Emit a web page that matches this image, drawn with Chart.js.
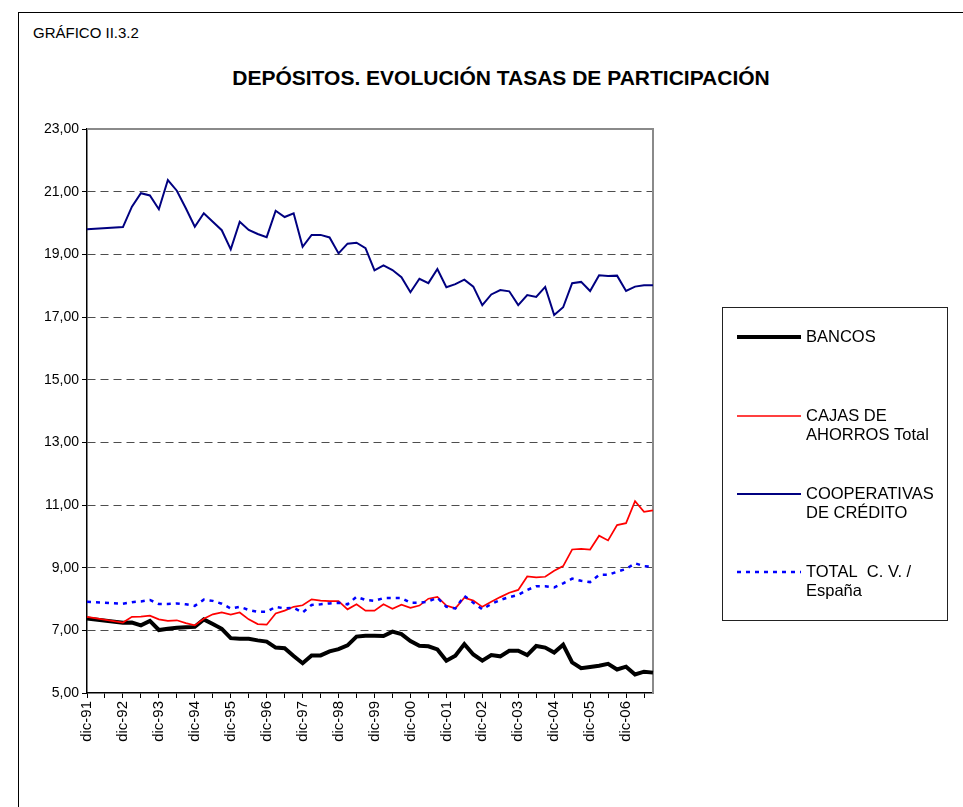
<!DOCTYPE html>
<html>
<head>
<meta charset="utf-8">
<script src="https://cdn.jsdelivr.net/npm/chart.js@4"></script>
<style>
  html, body { margin: 0; padding: 0; background: #fff; overflow: hidden; }
  #page { position: relative; width: 963px; height: 807px; overflow: hidden; }
  #frame { position: absolute; left: 18px; top: 12px; width: 1000px; height: 900px; border: 1px solid #000; }
  #tag { position: absolute; left: 33px; top: 24px; font: 15px "Liberation Sans", Arial, sans-serif; color: #000; }
  #title { position: absolute; left: 18px; width: 966px; top: 66px; text-align: center; font: bold 21px "Liberation Sans", Arial, sans-serif; color: #000; }
  #chart { position: absolute; left: 0; top: 0; }
</style>
</head>
<body>
<div id="page">
  <div id="frame"></div>
  <div id="tag">GRÁFICO II.3.2</div>
  <div id="title">DEPÓSITOS. EVOLUCIÓN TASAS DE PARTICIPACIÓN</div>
  <canvas id="chart" width="963" height="807"></canvas>
</div>
<script>
// quarterly, dic-91 .. sep-07
const quarters = [
    'dic-91',
    'mar-92', 'jun-92', 'sep-92', 'dic-92',
    'mar-93', 'jun-93', 'sep-93', 'dic-93',
    'mar-94', 'jun-94', 'sep-94', 'dic-94',
    'mar-95', 'jun-95', 'sep-95', 'dic-95',
    'mar-96', 'jun-96', 'sep-96', 'dic-96',
    'mar-97', 'jun-97', 'sep-97', 'dic-97',
    'mar-98', 'jun-98', 'sep-98', 'dic-98',
    'mar-99', 'jun-99', 'sep-99', 'dic-99',
    'mar-00', 'jun-00', 'sep-00', 'dic-00',
    'mar-01', 'jun-01', 'sep-01', 'dic-01',
    'mar-02', 'jun-02', 'sep-02', 'dic-02',
    'mar-03', 'jun-03', 'sep-03', 'dic-03',
    'mar-04', 'jun-04', 'sep-04', 'dic-04',
    'mar-05', 'jun-05', 'sep-05', 'dic-05',
    'mar-06', 'jun-06', 'sep-06', 'dic-06',
    'mar-07', 'jun-07', 'sep-07'
];

// 1992 quarters are missing in the source, the line just joins dic-91 to dic-92
const bancos = [
    7.38, null, null, null, 7.24, 7.25, 7.16, 7.30, 7.01, 7.05, 7.08, 7.10, 7.11,
    7.35, 7.20, 7.05, 6.75, 6.73, 6.73, 6.68, 6.64, 6.45, 6.43, 6.18, 5.95,
    6.20, 6.20, 6.33, 6.40, 6.52, 6.80, 6.83, 6.83, 6.82, 6.96, 6.88, 6.66,
    6.51, 6.49, 6.39, 6.03, 6.19, 6.56, 6.23, 6.03, 6.21, 6.17, 6.35, 6.35,
    6.21, 6.50, 6.45, 6.29, 6.54, 5.98, 5.79, 5.83, 5.87, 5.93, 5.75, 5.84,
    5.59, 5.68, 5.65
];
const cajas = [
    7.43, null, null, null, 7.25, 7.43, 7.44, 7.47, 7.35, 7.30, 7.32, 7.23, 7.16,
    7.37, 7.51, 7.57, 7.50, 7.57, 7.35, 7.20, 7.18, 7.54, 7.63, 7.75, 7.80,
    7.99, 7.95, 7.93, 7.93, 7.67, 7.83, 7.63, 7.63, 7.83, 7.69, 7.82, 7.72,
    7.79, 8.01, 8.07, 7.79, 7.70, 8.04, 7.95, 7.75, 7.91, 8.06, 8.20, 8.29,
    8.72, 8.69, 8.71, 8.90, 9.05, 9.58, 9.60, 9.58, 10.02, 9.87, 10.36, 10.42,
    11.12, 10.78, 10.83
];
const cooperativas = [
    19.80, null, null, null, 19.87, 20.52, 20.95, 20.88, 20.44, 21.37, 21.03, 20.47, 19.88,
    20.31, 20.04, 19.77, 19.16, 20.04, 19.78, 19.65, 19.55, 20.39, 20.19, 20.31, 19.24,
    19.62, 19.62, 19.54, 19.03, 19.34, 19.37, 19.20, 18.49, 18.65, 18.50, 18.27, 17.79,
    18.22, 18.08, 18.53, 17.95, 18.05, 18.19, 17.97, 17.38, 17.72, 17.86, 17.82, 17.38,
    17.70, 17.64, 17.96, 17.06, 17.31, 18.08, 18.12, 17.83, 18.33, 18.31, 18.32, 17.83,
    17.97, 18.01, 18.01
];
const totalCV = [
    7.91, null, null, null, 7.85, 7.90, 7.92, 7.97, 7.84, 7.84, 7.86, 7.83, 7.78,
    7.98, 7.94, 7.85, 7.70, 7.75, 7.65, 7.59, 7.59, 7.75, 7.70, 7.72, 7.57,
    7.81, 7.83, 7.86, 7.88, 7.83, 8.07, 7.97, 7.94, 8.03, 8.03, 8.03, 7.88,
    7.88, 7.92, 8.04, 7.75, 7.70, 8.10, 7.88, 7.67, 7.84, 7.97, 8.06, 8.13,
    8.29, 8.41, 8.41, 8.37, 8.50, 8.65, 8.58, 8.54, 8.77, 8.77, 8.87, 8.96,
    9.14, 9.05, 9.03
];

const seriesNames = ['BANCOS', 'CAJAS DE AHORROS Total', 'COOPERATIVAS DE CRÉDITO', 'TOTAL  C. V. / España'];
const legendLines = [
    ['BANCOS'],
    ['CAJAS DE', 'AHORROS Total'],
    ['COOPERATIVAS', 'DE CRÉDITO'],
    ['TOTAL  C. V. /', 'España']
];

Chart.defaults.font.family = '"Liberation Sans", Arial, sans-serif';
Chart.defaults.color = '#000';

// gray top and right edge of the plot area
const plotEdge = {
    id: 'plotEdge',
    beforeDatasetsDraw(chart) {
        const { ctx, chartArea: a } = chart;
        ctx.save();
        ctx.strokeStyle = '#8a8a8a';
        ctx.lineWidth = 2;
        ctx.beginPath();
        ctx.moveTo(a.left, a.top);
        ctx.lineTo(a.right, a.top);
        ctx.lineTo(a.right, a.bottom);
        ctx.stroke();
        ctx.restore();
    }
};

// boxed legend on the right, with two-line labels
const boxLegend = {
    id: 'boxLegend',
    afterDraw(chart, args, opts) {
        const ctx = chart.ctx;
        ctx.save();
        ctx.strokeStyle = '#222';
        ctx.lineWidth = 1;
        ctx.strokeRect(opts.x + 0.5, opts.y + 0.5, opts.w, opts.h);
        ctx.font = opts.font;
        ctx.fillStyle = '#000';
        ctx.textBaseline = 'middle';
        chart.data.datasets.forEach((ds, i) => {
            const y = opts.rows[i];
            ctx.strokeStyle = ds.borderColor;
            ctx.lineWidth = ds.borderWidth;
            ctx.setLineDash(ds.borderDash || []);
            ctx.beginPath();
            ctx.moveTo(opts.lineFrom, y);
            ctx.lineTo(opts.lineTo, y);
            ctx.stroke();
            ctx.setLineDash([]);
            legendLines[i].forEach((t, k) => ctx.fillText(t, opts.textX, y + k * opts.lineH));
        });
        ctx.restore();
    }
};

new Chart(document.getElementById('chart'), {
    type: 'line',
    data: {
        labels: quarters,
        datasets: [
            { label: seriesNames[0], data: bancos, borderColor: '#000000', borderWidth: 4, order: 4 },
            { label: seriesNames[1], data: cajas, borderColor: '#ff0000', borderWidth: 1.7, order: 3 },
            { label: seriesNames[2], data: cooperativas, borderColor: '#000080', borderWidth: 2, order: 2 },
            { label: seriesNames[3], data: totalCV, borderColor: '#0000ff', borderWidth: 2.5, borderDash: [4, 5], order: 1 }
        ]
    },
    options: {
        responsive: false,
        animation: false,
        devicePixelRatio: 1,
        spanGaps: true,
        elements: {
            point: { radius: 0 },
            line: { tension: 0, borderCapStyle: 'butt', borderJoinStyle: 'miter' }
        },
        layout: { padding: { left: 0, top: 129, right: 310, bottom: 0 } },
        scales: {
            x: {
                offset: false,
                afterFit(s) { s.height = 114; },
                grid: {
                    drawOnChartArea: false,
                    tickLength: 5,
                    tickColor: ctx => (ctx.index % 2 === 0 ? '#000' : 'rgba(0,0,0,0)')
                },
                border: { color: '#000', width: 1.5 },
                ticks: {
                    autoSkip: false,
                    minRotation: 90,
                    maxRotation: 90,
                    padding: 3,
                    font: { size: 15 },
                    callback(v, i) {
                        const l = quarters[i];
                        return l.startsWith('dic') ? l : '';
                    }
                }
            },
            y: {
                min: 5,
                max: 23,
                afterFit(s) { s.width = 87; },
                grid: {
                    color: ctx => (ctx.tick && (ctx.tick.value === 23 || ctx.tick.value === 5) ? 'rgba(0,0,0,0)' : '#4d4d4d'),
                    lineWidth: 1,
                    tickLength: 5,
                    tickColor: '#000'
                },
                border: { color: '#000', width: 1.5, dash: [8, 5] },
                ticks: {
                    stepSize: 2,
                    padding: 3,
                    font: { size: 14 },
                    callback: v => v.toFixed(2).replace('.', ',')
                }
            }
        },
        plugins: {
            legend: { display: false },
            tooltip: { enabled: false },
            boxLegend: {
                x: 722, y: 307, w: 225, h: 313,
                lineFrom: 737, lineTo: 801, textX: 806,
                rows: [337, 416, 494, 572],
                lineH: 19,
                font: '16.5px "Liberation Sans", Arial, sans-serif'
            }
        }
    },
    plugins: [plotEdge, boxLegend]
});
</script>
</body>
</html>
